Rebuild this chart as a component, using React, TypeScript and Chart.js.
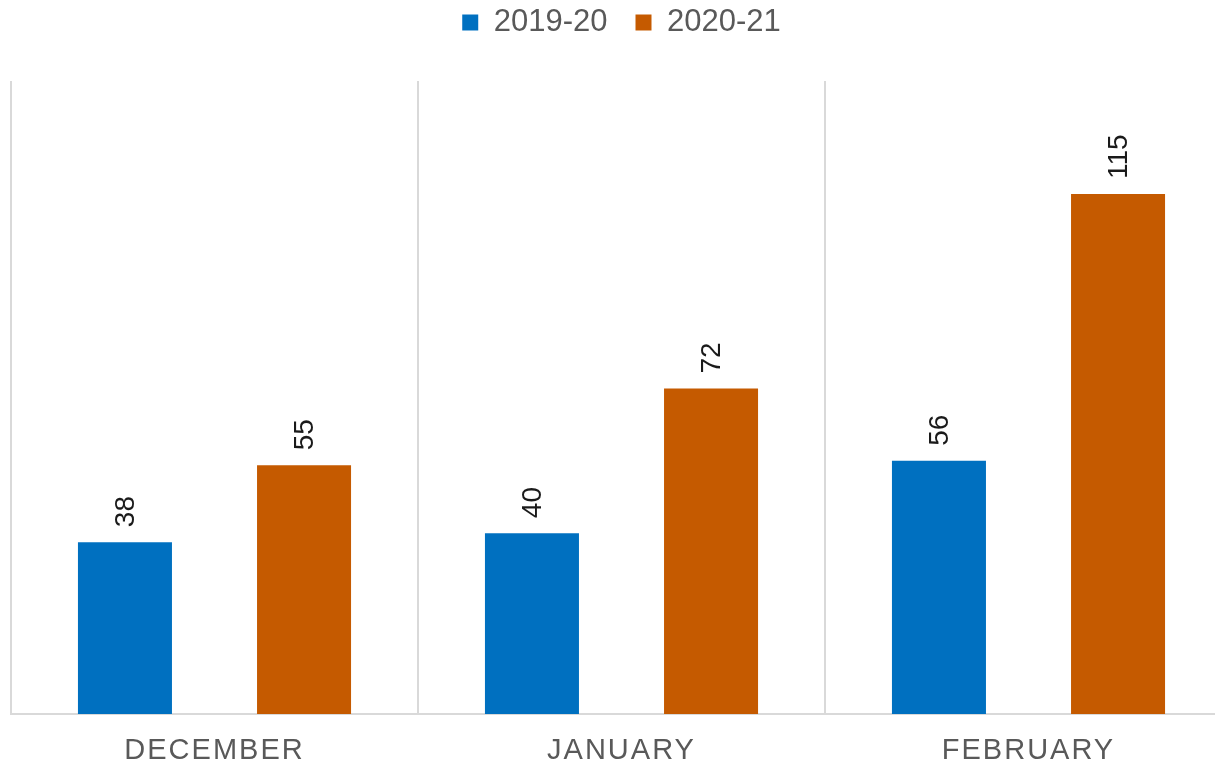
import React, { useEffect, useRef } from "react";
import { Chart, registerables } from "chart.js";

Chart.register(...registerables);

const categories = ["DECEMBER", "JANUARY", "FEBRUARY"];
const series2019 = [38, 40, 56];
const series2020 = [55, 72, 115];
const seriesNames = ["2019-20", "2020-21"];
const seriesColors = ["#0070C0", "#C55A00"];

const FONT = "'Liberation Sans', Arial, Helvetica, sans-serif";

const labelPlugin = {
  id: "barLabels",
  beforeInit(chart: any) {
    const legend = chart.legend;
    if (legend && !legend.__patched) {
      const origFit = legend.fit.bind(legend);
      legend.fit = function () {
        origFit();
        this.height += 33;
      };
      legend.__patched = true;
    }
  },
  afterDatasetsDraw(chart: any) {
    const ctx = chart.ctx;
    ctx.save();
    ctx.font = `28px ${FONT}`;
    ctx.fillStyle = "#1a1a1a";
    ctx.textAlign = "left";
    ctx.textBaseline = "middle";
    chart.data.datasets.forEach((ds: any, di: number) => {
      const meta = chart.getDatasetMeta(di);
      meta.data.forEach((bar: any, i: number) => {
        ctx.save();
        ctx.translate(bar.x + 1, bar.y - 15);
        ctx.rotate(-Math.PI / 2);
        ctx.fillText(String(ds.data[i]), 0, 0);
        ctx.restore();
      });
    });
    ctx.restore();
    try {
      ctx.letterSpacing = "2px";
    } catch (e) {}
  },
  beforeDraw(chart: any) {
    try {
      chart.ctx.letterSpacing = "0px";
    } catch (e) {}
  },
  afterDraw(chart: any) {
    try {
      chart.ctx.letterSpacing = "0px";
    } catch (e) {}
  },
};

export default function App() {
  const ref = useRef<HTMLCanvasElement>(null);
  useEffect(() => {
    document.body.style.margin = "0";
    const chart = new Chart(ref.current as HTMLCanvasElement, {
      type: "bar",
      data: {
        labels: categories,
        datasets: [
          {
            label: seriesNames[0],
            data: series2019,
            backgroundColor: seriesColors[0],
            borderWidth: 0,
          },
          {
            label: seriesNames[1],
            data: series2020,
            backgroundColor: seriesColors[1],
            borderWidth: 0,
          },
        ],
      },
      options: {
        animation: false,
        responsive: true,
        maintainAspectRatio: false,
        categoryPercentage: 0.88,
        barPercentage: 0.525,
        layout: { padding: { left: 11, right: 8, top: -21, bottom: 0 } },
        plugins: {
          legend: {
            position: "top",
            align: "center",
            labels: {
              boxWidth: 16,
              boxHeight: 16,
              padding: 28,
              color: "#595959",
              font: { family: FONT, size: 31 },
            },
          },
          tooltip: { enabled: false },
        },
        scales: {
          x: {
            offset: true,
            grid: {
              display: true,
              offset: true,
              color: "#D9D9D9",
              lineWidth: 2,
              drawTicks: false,
            },
            border: { display: true, color: "#D9D9D9", width: 2 },
            ticks: {
              z: 1,
              color: "#595959",
              padding: 22,
              maxRotation: 0,
              autoSkip: false,
              font: { family: FONT, size: 29, lineHeight: 1 },
            },
          },
          y: {
            display: false,
            min: 0,
            max: 140,
          },
        },
      },
      plugins: [labelPlugin],
    } as any);
    return () => chart.destroy();
  }, []);
  return (
    <div
      style={{
        position: "absolute",
        left: 0,
        top: 0,
        width: 1215,
        height: 765,
        overflow: "hidden",
        background: "#fff",
      }}
    >
      <div style={{ position: "relative", width: 1240, height: 787 }}>
        <canvas ref={ref} />
      </div>
    </div>
  );
}
